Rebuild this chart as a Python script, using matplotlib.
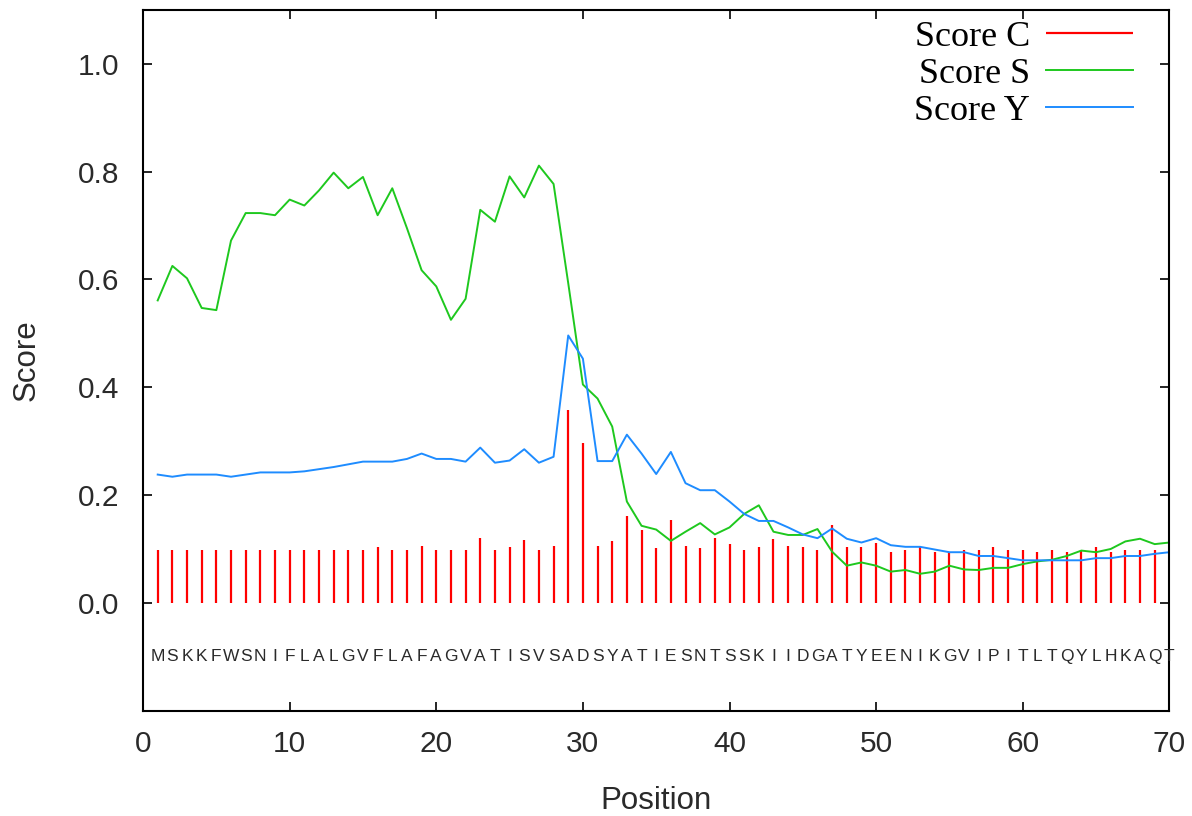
import numpy as np
import matplotlib
matplotlib.use('Agg')
import matplotlib.pyplot as plt

# sequence and per-position scores
sequence = "MSKKFWSNIFLALGVFLAFAGVATISVSADSYATIESNTSSKIIDGATYEENIKGVIPITLTQYLHKAQT"

score_c = [0.099, 0.099, 0.099, 0.099, 0.099, 0.099, 0.099, 0.099, 0.099, 0.099,
           0.099, 0.099, 0.099, 0.099, 0.099, 0.103, 0.099, 0.099, 0.106, 0.099,
           0.099, 0.099, 0.121, 0.099, 0.103, 0.117, 0.099, 0.106, 0.358, 0.297,
           0.106, 0.114, 0.161, 0.135, 0.102, 0.153, 0.106, 0.102, 0.120, 0.110,
           0.099, 0.103, 0.118, 0.106, 0.103, 0.099, 0.145, 0.103, 0.103, 0.112,
           0.095, 0.099, 0.104, 0.095, 0.093, 0.099, 0.099, 0.103, 0.099, 0.099,
           0.095, 0.099, 0.095, 0.099, 0.103, 0.095, 0.099, 0.099, 0.099]

score_s = [0.561, 0.625, 0.602, 0.547, 0.543, 0.672, 0.723, 0.723, 0.719, 0.748,
           0.737, 0.765, 0.798, 0.769, 0.790, 0.719, 0.769, 0.695, 0.617, 0.587,
           0.525, 0.564, 0.729, 0.707, 0.791, 0.752, 0.811, 0.777, 0.593, 0.405,
           0.379, 0.327, 0.188, 0.143, 0.136, 0.115, 0.132, 0.148, 0.127, 0.140,
           0.165, 0.181, 0.132, 0.126, 0.126, 0.137, 0.095, 0.069, 0.075, 0.069,
           0.058, 0.061, 0.054, 0.058, 0.069, 0.062, 0.061, 0.065, 0.065, 0.072,
           0.077, 0.080, 0.087, 0.097, 0.094, 0.100, 0.114, 0.119, 0.109, 0.112]

score_y = [0.238, 0.234, 0.238, 0.238, 0.238, 0.234, 0.238, 0.242, 0.242, 0.242,
           0.244, 0.248, 0.252, 0.257, 0.262, 0.262, 0.262, 0.267, 0.277, 0.267,
           0.267, 0.262, 0.288, 0.260, 0.264, 0.285, 0.260, 0.271, 0.496, 0.453,
           0.263, 0.263, 0.312, 0.277, 0.239, 0.280, 0.222, 0.209, 0.209, 0.188,
           0.165, 0.152, 0.152, 0.140, 0.127, 0.120, 0.138, 0.119, 0.112, 0.120,
           0.107, 0.104, 0.104, 0.099, 0.094, 0.094, 0.087, 0.087, 0.083, 0.079,
           0.079, 0.079, 0.079, 0.079, 0.083, 0.083, 0.087, 0.087, 0.091, 0.094]

pos = np.arange(1, len(sequence) + 1)
pos_c = np.arange(1, len(score_c) + 1)

plt.rcParams['font.family'] = ['Liberation Sans', 'DejaVu Sans']

fig = plt.figure(figsize=(11.92, 8.16), dpi=100)
ax = fig.add_axes([0.12, 0.129, 0.861, 0.859])

ax.vlines(pos_c, 0, score_c, colors='#ff0000', lw=1.6, label='Score C')
ax.plot(pos, score_s, color='#1ec81e', lw=1.4, label='Score S')
ax.plot(pos, score_y, color='#1e8cff', lw=1.4, label='Score Y')

for p, aa in zip(pos, sequence):
    ax.text(p, -0.1, aa, ha='center', va='center', fontsize=12.5, color='#2a2a2a')

ax.set_xlim(0, 70)
ax.set_ylim(-0.2, 1.1)
ax.set_xticks(np.arange(0, 71, 10))
ax.set_yticks(np.arange(0, 1.01, 0.2))
ax.set_yticklabels(['%.1f' % v for v in np.arange(0, 1.01, 0.2)])
ax.tick_params(direction='in', length=6.5, width=1.2, top=True, right=True,
               labelsize=21.5, labelcolor='#2a2a2a')
ax.tick_params(axis='y', pad=17)
ax.tick_params(axis='x', pad=14)
for s in ax.spines.values():
    s.set_linewidth(1.5)

ax.set_xlabel('Position', fontsize=22.5, color='#2a2a2a', labelpad=20)
ax.set_ylabel('Score', fontsize=22.5, color='#2a2a2a', labelpad=26)

leg = ax.legend(loc='upper right', bbox_to_anchor=(0.975, 1.0), frameon=False,
                markerfirst=False, handlelength=2.4, handletextpad=0.45,
                labelspacing=0.1, borderaxespad=0.3, borderpad=0,
                prop={'family': 'Liberation Serif', 'size': 26})

plt.savefig('out.png', dpi=100)
plt.close()
